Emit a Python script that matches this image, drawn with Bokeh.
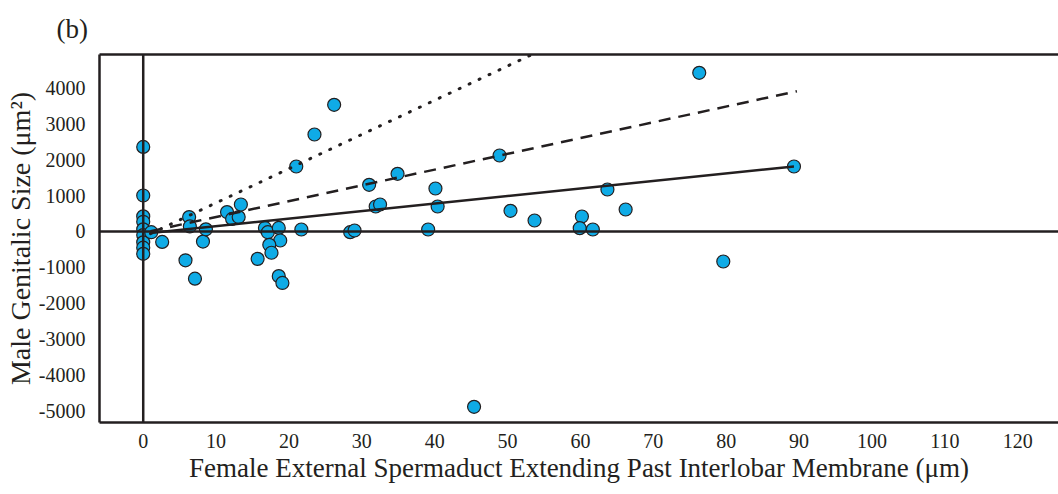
from bokeh.plotting import figure
from bokeh.models import Span, LinearAxis, FixedTicker, Range1d
from bokeh.embed import file_html
from bokeh.resources import INLINE

# Data
x_vals = [0, 0, 0, 0, 0, 0, 0, 0, 0,
          1.1, 2.6, 5.8, 7.1, 6.3, 6.4, 8.2, 8.6, 11.5, 12.2, 13.1, 13.4,
          15.7, 16.7, 17.1, 18.6, 18.8, 17.3, 17.6, 18.6, 19.1, 21.7, 21.0,
          23.5, 26.2, 31.0, 34.9, 31.9, 32.5, 40.1, 40.4, 39.1, 28.4, 29.0,
          48.9, 50.4, 53.7, 60.2, 59.9, 61.7, 63.7, 66.2, 76.3, 89.3, 79.6, 45.4]
y_vals = [2350, 1000, 420, 270, 60, -100, -300, -450, -620,
          -20, -290, -800, -1310, 400, 140, -280, 60, 540, 350, 400, 750,
          -760, 100, -20, 100, -250, -370, -590, -1240, -1430, 56, 1806,
          2694, 3519, 1296, 1602, 694, 750, 1194, 694, 56, -19, 28,
          2111, 575, 306, 417, 92, 56, 1167, 611, 4408, 1806, -833, -4870]

solid_x = [1.0, 89.3]
solid_y = [-40, 1806]
dashed_x = [1.0, 89.7]
dashed_y = [10, 3897]
dotted_x = [1.0, 53.5]
dotted_y = [-60, 4930]

x_ticks = [0, 10, 20, 30, 40, 50, 60, 70, 80, 90, 100, 110, 120]
y_ticks = [4000, 3000, 2000, 1000, 0, -1000, -2000, -3000, -4000, -5000]
y_tick_labels = ["4000", "3000", "2000", "1000", "0", "-1000", "-2000", "-3000", "-4000", "-5000"]

INK = "#231F20"
FONT = "Liberation Serif"

p = figure(width=1058, height=494, output_backend="svg", toolbar_location=None,
           x_range=Range1d(-6.0, 125.6), y_range=Range1d(-5306, 4917),
           min_border_left=99, min_border_right=0, min_border_top=54, min_border_bottom=72)
p.outline_line_color = None
p.grid.visible = False
p.background_fill_color = "white"
p.border_fill_color = "white"

p.title.text = "(b)"
p.title.text_font = FONT
p.title.text_font_size = "27px"
p.title.text_font_style = "normal"
p.title.text_color = INK
p.title.offset = -43
p.title.standoff = 22

for ax in (p.xaxis[0], p.yaxis[0]):
    ax.axis_line_width = 2.5
    ax.axis_line_color = INK
    ax.major_tick_line_color = None
    ax.minor_tick_line_color = None
    ax.major_label_text_font = FONT
    ax.major_label_text_font_size = "20px"
    ax.major_label_text_color = INK
    ax.axis_label_text_font = FONT
    ax.axis_label_text_font_size = "27px"
    ax.axis_label_text_font_style = "normal"
    ax.axis_label_text_color = INK

p.yaxis.axis_label_text_font_size = "28px"
p.xaxis.ticker = FixedTicker(ticks=x_ticks)
p.yaxis.ticker = FixedTicker(ticks=y_ticks)
p.yaxis.major_label_overrides = {t: s for t, s in zip(y_ticks, y_tick_labels)}
p.xaxis.major_label_standoff = 5
p.yaxis.major_label_standoff = 8
p.xaxis.axis_label = "Female External Spermaduct Extending Past Interlobar Membrane (\u03bcm)"
p.yaxis.axis_label = "Male Genitalic Size (\u03bcm\u00b2)"
p.xaxis.axis_label_standoff = 2
p.yaxis.axis_label_standoff = 0

top_axis = LinearAxis(axis_line_width=2.5, axis_line_color=INK,
                      major_tick_line_color=None, minor_tick_line_color=None,
                      major_label_text_font_size="0px", ticker=FixedTicker(ticks=[]))
p.add_layout(top_axis, "above")

p.add_layout(Span(location=0, dimension="height", line_color=INK, line_width=2.5))
p.add_layout(Span(location=0, dimension="width", line_color=INK, line_width=2.5))

p.scatter(x_vals, y_vals, size=13, fill_color="#0FABE6", line_color=INK, line_width=1.2)

p.line(solid_x, solid_y, line_color=INK, line_width=2.5)
p.line(dashed_x, dashed_y, line_color=INK, line_width=2.5, line_dash="12 8")
p.line(dotted_x, dotted_y, line_color=INK, line_width=3, line_dash="1 10", line_cap="round")

open("out.html", "w").write(file_html(p, INLINE))
